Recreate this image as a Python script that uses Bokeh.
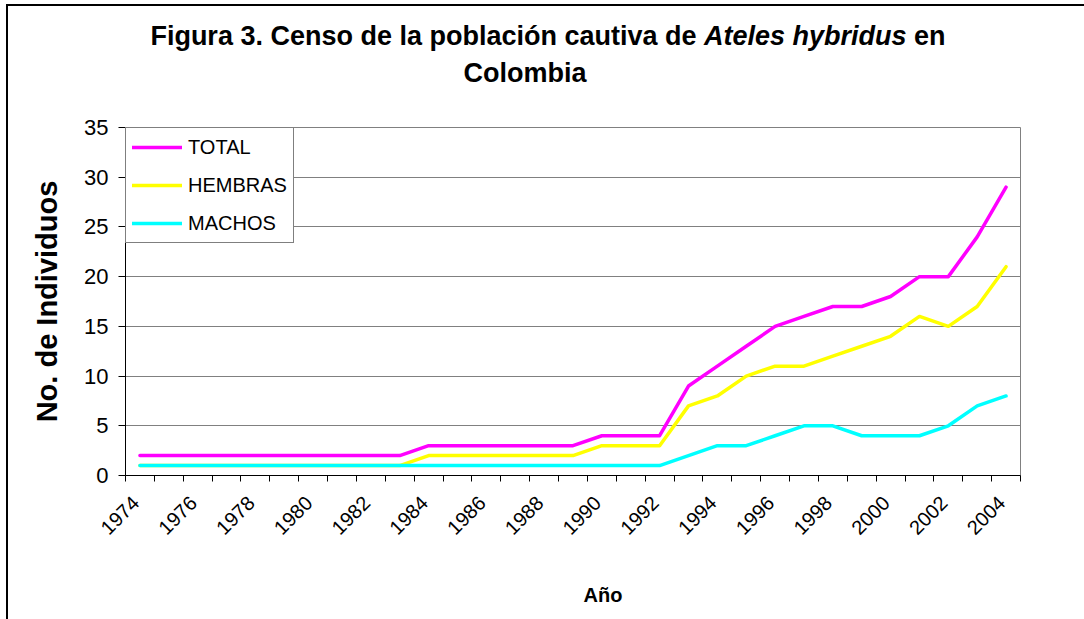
from bokeh.plotting import figure
from bokeh.models import (Range1d, FixedTicker, CustomJSTickFormatter,
                          Legend, LegendItem, Div)
from bokeh.layouts import column
from bokeh.embed import file_html
from bokeh.resources import INLINE

# ---------------- data ----------------
years = [1974, 1975, 1976, 1977, 1978, 1979, 1980, 1981, 1982, 1983,
         1984, 1985, 1986, 1987, 1988, 1989, 1990, 1991, 1992, 1993,
         1994, 1995, 1996, 1997, 1998, 1999, 2000, 2001, 2002, 2003, 2004]
total = [2, 2, 2, 2, 2, 2, 2, 2, 2, 2,
         3, 3, 3, 3, 3, 3, 4, 4, 4, 9,
         11, 13, 15, 16, 17, 17, 18, 20, 20, 24, 29]
hembras = [1, 1, 1, 1, 1, 1, 1, 1, 1, 1,
           2, 2, 2, 2, 2, 2, 3, 3, 3, 7,
           8, 10, 11, 11, 12, 13, 14, 16, 15, 17, 21]
machos = [1, 1, 1, 1, 1, 1, 1, 1, 1, 1,
          1, 1, 1, 1, 1, 1, 1, 1, 1, 2,
          3, 3, 4, 5, 5, 4, 4, 4, 5, 7, 8]
series_names = ["TOTAL", "HEMBRAS", "MACHOS"]
series_colors = ["#FF00FF", "#FFFF00", "#00FFFF"]
x_label_years = [1974, 1976, 1978, 1980, 1982, 1984, 1986, 1988, 1990,
                 1992, 1994, 1996, 1998, 2000, 2002, 2004]
y_ticks = [0, 5, 10, 15, 20, 25, 30, 35]

title_a = "Figura 3. Censo de la población cautiva de"
title_b = "Ateles hybridus"
title_c = "en"
title_2 = "Colombia"
x_title = "Año"
y_title = "No. de Individuos"

FONT = "Liberation Sans"

# ---------------- layout sizes ----------------
W = 1074                 # width of every block
TOP_H = 90               # title block
FW, FH = 895, 348        # plot frame
ML, MT = 117, 21
MB = 75
MR = W - ML - FW
PH = MT + FH + MB
BOT_H = 62

x0, x1 = years[0] - 0.5, years[-1] + 0.5
p = figure(width=W, height=PH, output_backend="svg", toolbar_location=None,
           x_range=Range1d(x0, x1), y_range=Range1d(0, 35),
           min_border_left=ML, min_border_right=MR, min_border_top=MT,
           min_border_bottom=MB)
p.background_fill_color = "white"
p.border_fill_color = "white"
p.outline_line_color = "#808080"
p.outline_line_width = 1

# grid
p.xgrid.visible = False
p.ygrid.ticker = FixedTicker(ticks=y_ticks)
p.ygrid.grid_line_color = "#808080"
p.ygrid.grid_line_width = 1

# y axis
ya = p.yaxis[0]
ya.ticker = FixedTicker(ticks=y_ticks)
ya.axis_line_color = "black"
ya.major_tick_line_color = "black"
ya.major_tick_out = 7
ya.major_tick_in = 0
ya.minor_tick_line_color = None
ya.major_label_text_font = FONT
ya.major_label_text_font_size = "22px"
ya.major_label_text_color = "black"
ya.major_label_standoff = 10
ya.axis_label = y_title
ya.axis_label_text_font = FONT
ya.axis_label_text_font_size = "29px"
ya.axis_label_text_font_style = "bold"
ya.axis_label_text_color = "black"
ya.axis_label_standoff = 18

# x axis (category style: ticks between years, labels every 2 years)
OFF = 0.15
xa = p.xaxis[0]
xa.ticker = FixedTicker(ticks=[y - OFF for y in x_label_years],
                        minor_ticks=[x0 + i for i in range(len(years) + 1)])
xa.formatter = CustomJSTickFormatter(
    code="return Math.round(tick + %r).toString();" % OFF)
xa.axis_line_color = "black"
xa.major_tick_line_color = None
xa.major_tick_out = 0
xa.major_tick_in = 0
xa.minor_tick_line_color = "black"
xa.minor_tick_out = 6
xa.minor_tick_in = 0
xa.major_label_orientation = 0.785398
xa.major_label_text_font = FONT
xa.major_label_text_font_size = "20px"
xa.major_label_text_color = "black"
xa.major_label_standoff = 18

# lines
renderers = []
for vals, col in zip([total, hembras, machos], series_colors):
    r = p.line(years, vals, line_color=col, line_width=3.5,
               line_join="round", line_cap="round")
    renderers.append(r)

legend = Legend(items=[LegendItem(label=n, renderers=[r])
                       for n, r in zip(series_names, renderers)],
                location="top_left")
legend.margin = 0
legend.padding = 6
legend.spacing = 12
legend.glyph_width = 50
legend.glyph_height = 26
legend.label_height = 26
legend.label_standoff = 6
legend.label_text_font = FONT
legend.label_text_font_size = "20px"
legend.label_text_color = "black"
legend.border_line_color = "black"
legend.border_line_width = 1
legend.background_fill_color = "white"
legend.background_fill_alpha = 1
p.add_layout(legend)

# ---------------- title block (bold with italic species name) ----------------
font_css = "font-family:'%s',Arial,sans-serif;color:black;white-space:nowrap;" % FONT
title_html = (
    '<div style="%sfont-size:27px;font-weight:bold;line-height:37px;padding-top:7px;">'
    '<div style="margin-left:85px;width:900px;text-align:center;">%s <i>%s</i> %s</div>'
    '<div style="margin-left:362px;width:300px;text-align:center;">%s</div>'
    '</div>' % (font_css, title_a, title_b, title_c, title_2)
)
top = Div(text=title_html, width=W, height=TOP_H)

bot_html = (
    '<div style="%sfont-size:20px;font-weight:bold;line-height:24px;padding-top:28px;">'
    '<div style="margin-left:540px;width:100px;text-align:center;">%s</div>'
    '</div>' % (font_css, x_title)
)
bot = Div(text=bot_html, width=W, height=BOT_H)

root = column(top, p, bot, spacing=0)
root.styles = {"margin-left": "6px", "margin-top": "4px",
               "border-left": "2px solid black", "border-top": "2px solid black",
               "background-color": "white"}

open("out.html", "w").write(file_html(root, INLINE))
